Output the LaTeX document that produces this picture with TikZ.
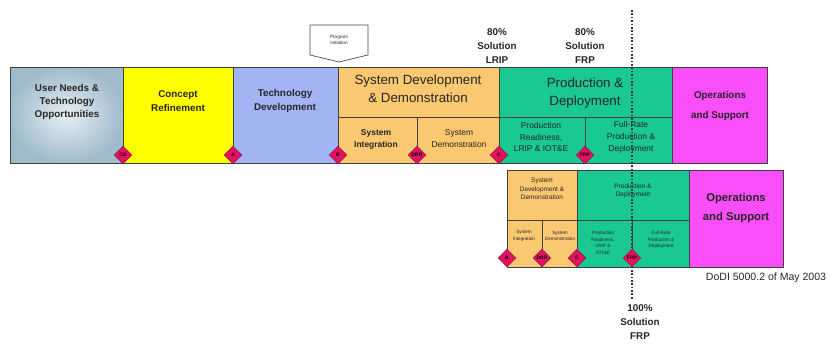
\documentclass[tikz,border=0pt]{standalone}
\usepackage{fontspec}
\setmainfont{Liberation Sans}
\usetikzlibrary{shapes.geometric}
\definecolor{needsblue}{RGB}{160,188,204}
\definecolor{cryellow}{RGB}{255,255,0}
\definecolor{tdblue}{RGB}{163,180,244}
\definecolor{sddorange}{RGB}{250,200,112}
\definecolor{pdgreen}{RGB}{26,200,146}
\definecolor{osmagenta}{RGB}{250,78,250}
\definecolor{msred}{RGB}{226,18,98}
\tikzset{
	phase/.style={draw=black!75,line width=.6pt},
	lbl/.style={align=center,text=black!85,font=\bfseries\fontsize{7}{9.5}\selectfont},
	biglbl/.style={align=center,text=black!85,font=\fontsize{9.5}{12.5}\selectfont},
	sublbl/.style={align=center,text=black!85,font=\fontsize{6}{8.5}\selectfont},
	smalllbl/.style={align=center,text=black!85,font=\fontsize{4.6}{6}\selectfont},
	tinylbl/.style={align=center,text=black!85,font=\fontsize{3.3}{4.6}\selectfont},
	sol/.style={align=center,text=black!85,font=\bfseries\fontsize{7}{10}\selectfont},
	milestone/.style={diamond,draw=msred!70!black,fill=msred,inner sep=0pt,
		minimum width=12.5pt,minimum height=12.5pt,font=\bfseries\fontsize{3.5}{4}\selectfont},
}
\begin{document}
\begin{tikzpicture}[x=0.025cm,y=-0.025cm]
	\useasboundingbox (0,0) rectangle (834,344);
	% upper bar
	\shade[inner color=needsblue!25!white,outer color=needsblue] (10,67) rectangle (123,163);
	\draw[phase] (10,67) rectangle (123,163);
	\draw[phase,fill=cryellow] (123,67) rectangle (233,163);
	\draw[phase,fill=tdblue] (233,67) rectangle (338,163);
	\draw[phase,fill=sddorange] (338,67) rectangle (499,163);
	\draw[phase] (338,117) -- (499,117) (417,117) -- (417,163);
	\draw[phase,fill=pdgreen] (499,67) rectangle (672,163);
	\draw[phase] (499,117) -- (672,117) (585,117) -- (585,163);
	\draw[phase,fill=osmagenta] (672,67) rectangle (767,163);
	\node[lbl] (needs) at (67,102) {User Needs \&\\Technology\\Opportunities};
	\node[lbl] (cr) at (178,101) {Concept\\Refinement};
	\node[lbl] (td) at (285,101) {Technology\\Development};
	\node[biglbl] (sdd) at (418,89) {System Development\\\& Demonstration};
	\node[sublbl,font=\bfseries\fontsize{6}{8.5}\selectfont] (si) at (376,139) {System\\Integration};
	\node[sublbl] (sdemo) at (459,139) {System\\Demonstration};
	\node[biglbl] (pd) at (585,93) {Production \&\\Deployment};
	\node[sublbl] (prr) at (541,137) {Production\\Readiness,\\LRIP \& IOT\&E};
	\node[sublbl] (frpd) at (631,137) {Full-Rate\\Production \&\\Deployment};
	\node[lbl,font=\bfseries\fontsize{7}{14}\selectfont] (os) at (720,106) {Operations\\and Support};
	% lower bar
	\draw[phase,fill=sddorange] (507,170) rectangle (577,267);
	\draw[phase] (507,220) -- (577,220) (542,220) -- (542,267);
	\draw[phase,fill=pdgreen] (577,170) rectangle (689,267);
	\draw[phase] (577,220) -- (689,220) (632,220) -- (632,267);
	\draw[phase,fill=osmagenta] (689,170) rectangle (783,267);
	\node[smalllbl] (sdd2) at (542,189) {System\\Development \&\\Demonstration};
	\node[smalllbl] (pd2) at (633,191) {Production \&\\Deployment};
	\node[lbl,font=\bfseries\fontsize{8}{14}\selectfont] (os2) at (736,208) {Operations\\and Support};
	\node[tinylbl] (si2) at (524,236) {System\\Integration};
	\node[tinylbl] (sdemo2) at (560,236) {System\\Demonstration};
	\node[tinylbl] (prr2) at (603,243) {Production\\Readiness,\\LRIP \&\\IOT\&E};
	\node[tinylbl] (frpd2) at (661,240) {Full-Rate\\Production \&\\Deployment};
	% 100% solution line
	\coordinate (dtop) at (632,10);
	\coordinate (dbot) at (632,300);
	\draw[black!80,line width=1.4pt,dash pattern=on 1.2pt off 1.2pt] (dtop) -- (dbot);
	% milestones
	\foreach \x/\l/\n in {123/CD/cd,233/A/a,338/B/b,417/DRR/drr,499/C/c,585/FRP/frp}
	\node[milestone] (ms-\n) at (\x,155) {\l};
	\foreach \x/\l/\n in {507/B/b,542/DRR/drr,577/C/c,632/FRP/frp}
	\node[milestone] (ms2-\n) at (\x,258) {\l};
	% program initiation
	\draw[black!70,fill=white,line width=.5pt] (310,25) -- (368,25) -- (368,55) -- (339,62) -- (310,55) -- cycle;
	\node[tinylbl] (pi) at (339,40) {Program\\Initiation};
	\node[sol] (lrip80) at (497,46) {80\%\\Solution\\LRIP};
	\node[sol] (frp80) at (585,46) {80\%\\Solution\\FRP};
	\node[sol] (frp100) at (640,322) {100\%\\Solution\\FRP};
	\node[font=\fontsize{7.5}{9}\selectfont,text=black!85] (dodi) at (766,278) {DoDI 5000.2 of May 2003};
\end{tikzpicture}
\end{document}
